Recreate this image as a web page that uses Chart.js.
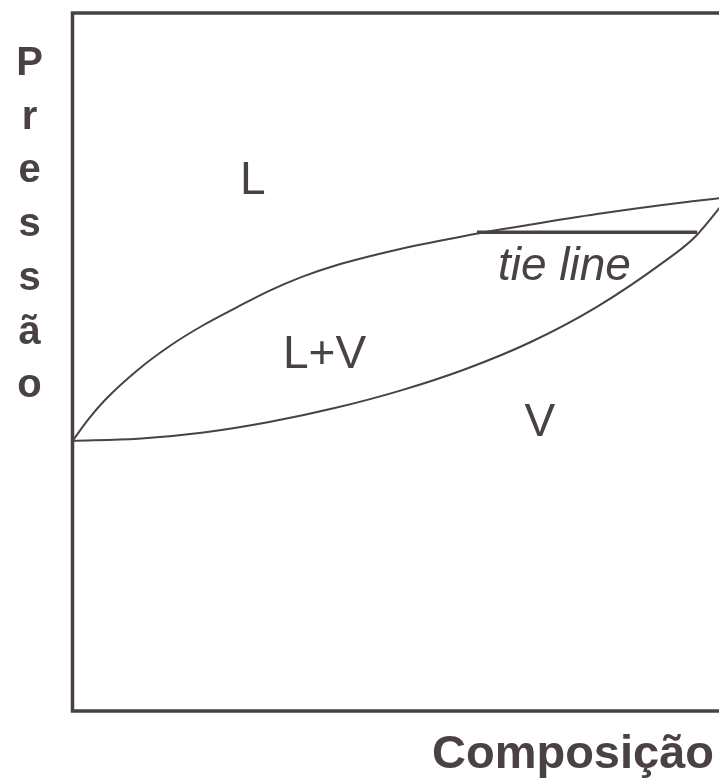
<!DOCTYPE html>
<html>
<head>
<meta charset="utf-8">
<script src="https://cdn.jsdelivr.net/npm/chart.js@4/dist/chart.umd.min.js"></script>
<style>
  html, body { margin: 0; padding: 0; background: #ffffff; overflow: hidden; width: 719px; height: 780px; }
  #wrap { position: absolute; left: 0; top: 0; width: 740px; height: 780px; }
</style>
</head>
<body>
<div id="wrap"><canvas id="c" width="740" height="780"></canvas></div>
<script>
// Composition (0..1) and pressure (arbitrary units 0..100)
const liquidX = [0, 0.025, 0.05, 0.1, 0.15, 0.2, 0.25, 0.3, 0.35, 0.4, 0.5, 0.6, 0.7, 0.8, 0.9, 1];
const liquidP = [38.7, 41.9, 44.6, 48.9, 52.4, 55.3, 57.8, 60.2, 62.2, 63.8, 66.2, 68.1, 69.7, 71.2, 72.5, 73.6];
const vaporX = [0, 0.1, 0.2, 0.3, 0.4, 0.5, 0.6, 0.7, 0.8, 0.9, 0.95, 1];
const vaporP = [38.7, 39.0, 39.9, 41.4, 43.4, 45.9, 49.0, 52.9, 57.9, 64.2, 67.95, 73.6];
const tieX = [0.617, 0.953];
const tieP = [68.6, 68.6];
const regionLabels = ["L", "L+V", "V"];
const regionX = [0.2555, 0.3211, 0.713];
const regionP = [74.1, 49.1, 39.4];
const tieLabel = "tie line";
const tieLabelX = 0.649;
const tieLabelP = 61.8;
const xTitle = "Composição";
const yTitle = "Pressão";

const INK = "#4a4242";
const toPts = (xs, ys) => xs.map((x, i) => ({ x: x, y: ys[i] }));

const decor = {
  id: "decor",
  beforeDatasetsDraw(chart) {
    const ctx = chart.ctx, a = chart.chartArea;
    ctx.save();
    ctx.strokeStyle = INK;
    ctx.lineWidth = 3.5;
    ctx.lineCap = "butt";
    ctx.beginPath();
    ctx.moveTo(chart.width, a.top);
    ctx.lineTo(a.left, a.top);
    ctx.lineTo(a.left, a.bottom);
    ctx.lineTo(chart.width, a.bottom);
    ctx.stroke();
    ctx.restore();
  },
  afterDatasetsDraw(chart) {
    const ctx = chart.ctx, a = chart.chartArea;
    const xs = chart.scales.x, ys = chart.scales.y;
    ctx.save();
    ctx.fillStyle = INK;
    ctx.textBaseline = "alphabetic";
    ctx.font = "46px 'Liberation Sans', Arial, sans-serif";
    regionLabels.forEach((t, i) => {
      ctx.textAlign = t === "V" ? "center" : "left";
      ctx.fillText(t, xs.getPixelForValue(regionX[i]), ys.getPixelForValue(regionP[i]));
    });
    ctx.textAlign = "left";
    ctx.font = "italic 46px 'Liberation Sans', Arial, sans-serif";
    ctx.fillText(tieLabel, xs.getPixelForValue(tieLabelX), ys.getPixelForValue(tieLabelP));
    ctx.font = "bold 47px 'Liberation Sans', Arial, sans-serif";
    ctx.textAlign = "center";
    ctx.fillText(xTitle, 573, a.bottom + 57);
    ctx.font = "bold 40px 'Liberation Sans', Arial, sans-serif";
    Array.from(yTitle).forEach((ch, i) => {
      ctx.fillText(ch, 29.5, 75 + i * 53.7);
    });
    ctx.restore();
  }
};

new Chart(document.getElementById("c"), {
  type: "scatter",
  data: {
    datasets: [
      { label: "Líquido", data: toPts(liquidX, liquidP), showLine: true, borderColor: INK, borderWidth: 2, pointRadius: 0, cubicInterpolationMode: "monotone", fill: false },
      { label: "Vapor", data: toPts(vaporX, vaporP), showLine: true, borderColor: INK, borderWidth: 2, pointRadius: 0, cubicInterpolationMode: "monotone", fill: false },
      { label: "tie line", data: toPts(tieX, tieP), showLine: true, borderColor: INK, borderWidth: 3.5, pointRadius: 0, fill: false }
    ]
  },
  options: {
    responsive: false,
    animation: false,
    devicePixelRatio: 1,
    layout: { padding: { left: 72.5, top: 13, right: 12, bottom: 69 } },
    plugins: { legend: { display: false }, tooltip: { enabled: false } },
    scales: {
      x: { type: "linear", min: 0, max: 1, display: false },
      y: { type: "linear", min: 0, max: 100, display: false }
    }
  },
  plugins: [decor]
});
</script>
</body>
</html>
